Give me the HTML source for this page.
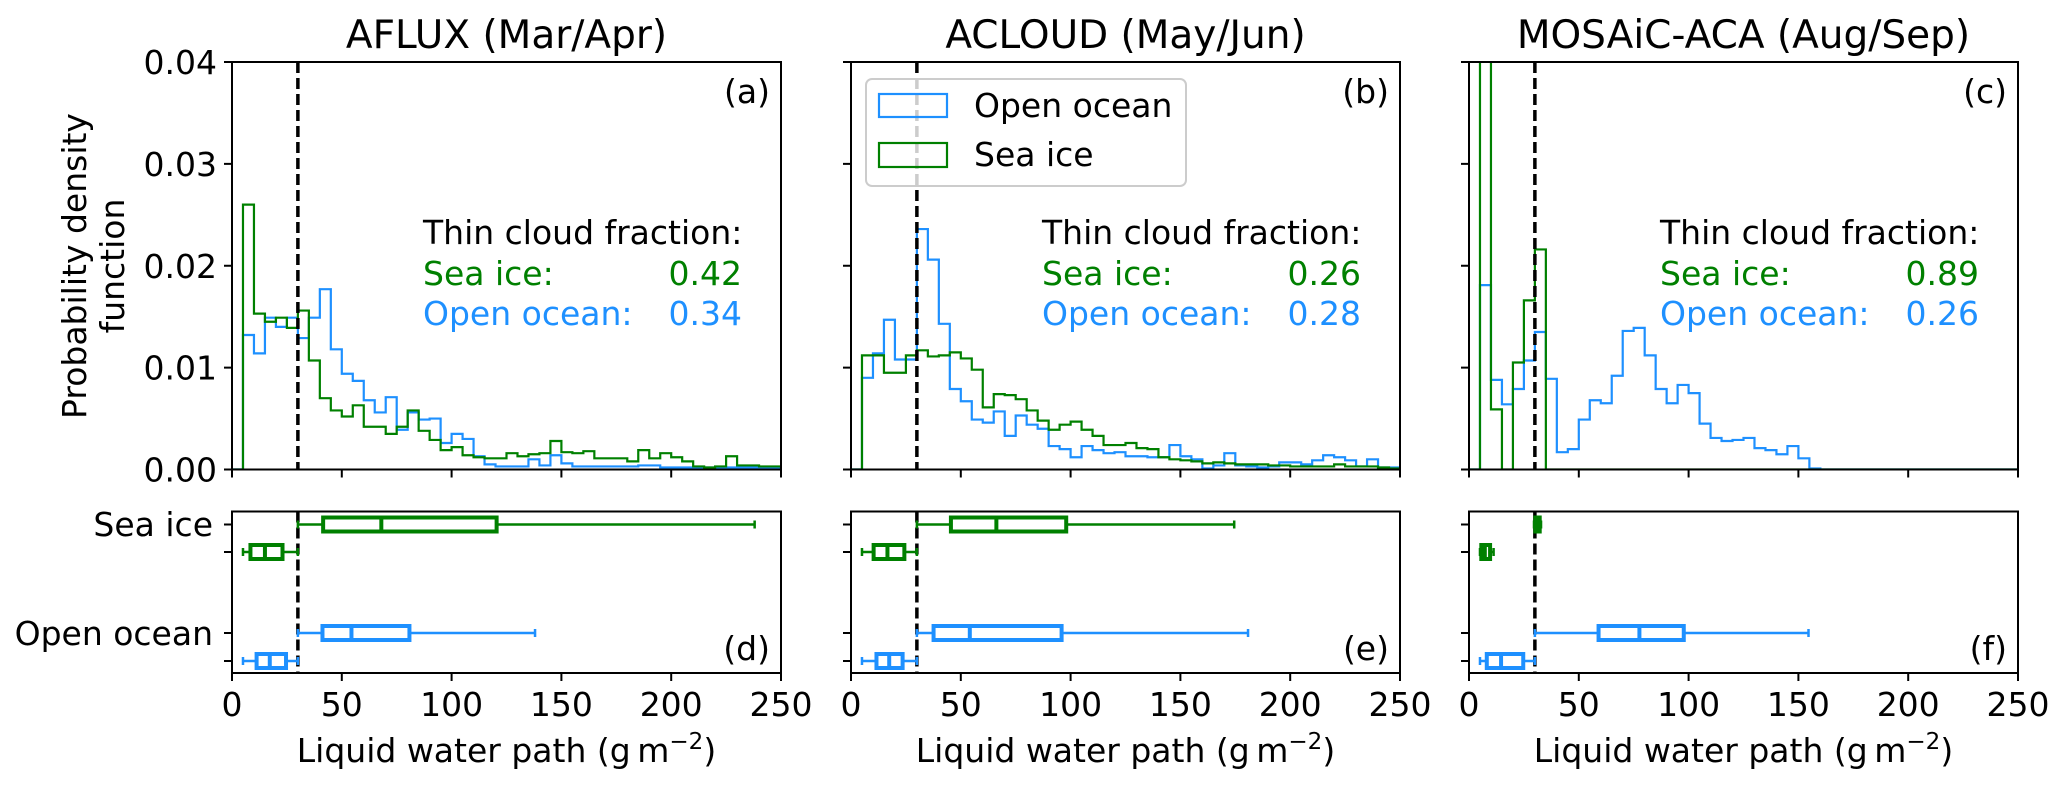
<!DOCTYPE html>
<html><head><meta charset="utf-8">
<style>
html,body{margin:0;padding:0;background:#fff;}
svg{display:block;font-family:"DejaVu Sans","Liberation Sans",sans-serif;}
</style></head>
<body>
<svg id="fig" width="2067" height="788" viewBox="0 0 2067 788" xmlns="http://www.w3.org/2000/svg"></svg>
<script>
// ---- data ----
const binStart = 0, binWidth = 5;
const xTicks = [0, 50, 100, 150, 200, 250];
const yTicks = [0.00, 0.01, 0.02, 0.03, 0.04];
const yTickLabels = ["0.00", "0.01", "0.02", "0.03", "0.04"];
const panelTitles = ["AFLUX (Mar/Apr)", "ACLOUD (May/Jun)", "MOSAiC-ACA (Aug/Sep)"];
const histLetters = ["(a)", "(b)", "(c)"];
const boxLetters = ["(d)", "(e)", "(f)"];
const thinThreshold = 30;
const seaIceFraction = ["0.42", "0.26", "0.89"];
const openOceanFraction = ["0.34", "0.28", "0.26"];

const aSeaIce = [0,0.026,0.0153,0.0145,0.0149,0.0139,0.0156,0.0107,0.0070,0.0058,0.0052,0.0063,0.0042,0.0042,0.0035,0.0042,0.0058,0.0038,0.0029,0.0019,0.0022,0.0014,0.0012,0.0011,0.0011,0.0016,0.0013,0.0015,0.0016,0.0028,0.0017,0.0016,0.0018,0.0011,0.0011,0.0011,0.0008,0.0019,0.0011,0.0016,0.0012,0.0008,0.0003,0.0002,0.0003,0.0013,0.0004,0.0004,0.0003,0.0003];
const aOpen = [0,0.0132,0.0114,0.0149,0.0140,0.0149,0.0129,0.0149,0.0177,0.0118,0.0094,0.0087,0.0068,0.0056,0.0071,0.0039,0.0056,0.0049,0.0050,0.0026,0.0035,0.0030,0.0013,0.0005,0.0003,0.0003,0.0003,0.0010,0.0004,0.0014,0.0006,0.0003,0.0003,0.0003,0.0003,0.0003,0.0003,0.0004,0.0004,0.0002,0.0002,0.0002,0.0002,0.0002,0.0002,0.0002,0.0002,0.0002,0.0002,0.0002];
const bSeaIce = [0,0.0112,0.0112,0.0095,0.0095,0.0112,0.0117,0.0111,0.0112,0.0115,0.0109,0.0098,0.0061,0.0074,0.0073,0.0069,0.0058,0.0048,0.0039,0.0044,0.0047,0.0039,0.0033,0.0024,0.0024,0.0026,0.0021,0.0020,0.0012,0.0010,0.0009,0.0008,0.0006,0.0007,0.0006,0.0005,0.0005,0.0005,0.0004,0.0004,0.0003,0.0003,0.0003,0.0003,0.0005,0.0003,0.0003,0.0003,0.0002,0.0001];
const bOpen = [0,0.009,0.0114,0.0147,0.0108,0.0108,0.0236,0.0206,0.0143,0.0079,0.0067,0.0049,0.0046,0.0057,0.0033,0.0053,0.0044,0.0040,0.0023,0.0020,0.0012,0.0023,0.0019,0.0016,0.0017,0.0013,0.0013,0.0012,0.0012,0.0024,0.0013,0.0010,0.0001,0.0004,0.0016,0.0004,0.0003,0.0002,0.0003,0.0007,0.0007,0.0005,0.0009,0.0014,0.0012,0.0009,0.0003,0.0010,0.0002,0.0002];
const cSeaIce = [0,0.09,0.0059,0,0.0105,0.0166,0.0216,0,0,0,0,0,0,0,0,0,0,0,0,0,0,0,0,0,0,0,0,0,0,0,0,0,0,0,0,0,0,0,0,0,0,0,0,0,0,0,0,0,0,0];
const cOpen = [0,0.0181,0.0088,0.0064,0.0079,0.0107,0.0135,0.0089,0.0017,0.0020,0.0049,0.0068,0.0065,0.0092,0.0136,0.0139,0.0112,0.0079,0.0065,0.0083,0.0075,0.0045,0.0031,0.0028,0.0029,0.0031,0.0021,0.0019,0.0015,0.0023,0.0011,0.0001,0,0,0,0,0,0,0,0,0,0,0,0,0,0,0,0,0,0];

// box stats: [whiskerLow, q1, median, q3, whiskerHigh]
const aSeaIceThick = [30, 41.5, 68, 120.5, 238];
const aSeaIceThin  = [5, 8.4, 15, 23, 30];
const aOpenThick   = [30, 41.2, 54.4, 80.8, 138];
const aOpenThin    = [5, 11.2, 17.2, 24.6, 30];
const bSeaIceThick = [30, 45.5, 66.2, 98, 174.5];
const bSeaIceThin  = [5, 10.3, 16.6, 24.3, 30];
const bOpenThick   = [30, 37.6, 54.1, 95.9, 180.8];
const bOpenThin    = [5, 11.6, 17.4, 23.5, 30];
const cSeaIceThick = [29.6, 30.2, 31.2, 32.2, 32.8];
const cSeaIceThin  = [5, 5.6, 7.2, 9.6, 11.2];
const cOpenThick   = [30, 59, 77.6, 97.8, 154.6];
const cOpenThin    = [5, 8.1, 14.6, 24.7, 30];

const histSeaIce = [aSeaIce, bSeaIce, cSeaIce];
const histOpen = [aOpen, bOpen, cOpen];
const boxSets = [
  [aSeaIceThick, aSeaIceThin, aOpenThick, aOpenThin],
  [bSeaIceThick, bSeaIceThin, bOpenThick, bOpenThin],
  [cSeaIceThick, cSeaIceThin, cOpenThick, cOpenThin]
];

// ---- layout ----
const GREEN = "#008000", BLUE = "#1E90FF";
const panelLeft = [232, 851, 1469], panelW = 549;
const hTop = 62, hBot = 469.5, yMax = 0.04;
const bTop = 511.5, bBot = 673;
const boxRowY = [524.5, 552, 633, 661];
const boxColors = [GREEN, GREEN, BLUE, BLUE];
const NS = "http://www.w3.org/2000/svg";
const svg = document.getElementById("fig");

function el(tag, attrs, parent) {
  const e = document.createElementNS(NS, tag);
  for (const k in attrs) e.setAttribute(k, attrs[k]);
  (parent || svg).appendChild(e);
  return e;
}
function txt(s, attrs, parent) { const t = el("text", attrs, parent); t.textContent = s; return t; }
function xScale(p, v) { return panelLeft[p] + v / 250 * panelW; }
function yScale(v) { return hBot - v / yMax * (hBot - hTop); }

const defs = el("defs", {});
for (let p = 0; p < 3; p++) {
  const cp = el("clipPath", {id: "clip" + p}, defs);
  el("rect", {x: panelLeft[p], y: hTop, width: panelW, height: hBot - hTop}, cp);
}

function stepPath(p, vals) {
  let d = "M" + xScale(p, binStart) + "," + yScale(0);
  for (let i = 0; i < vals.length; i++) {
    const x0 = xScale(p, binStart + i * binWidth), x1 = xScale(p, binStart + (i + 1) * binWidth);
    const y = yScale(vals[i]);
    d += " L" + x0 + "," + y + " L" + x1 + "," + y;
  }
  d += " L" + xScale(p, binStart + vals.length * binWidth) + "," + yScale(0);
  return d;
}

for (let p = 0; p < 3; p++) {
  const L = panelLeft[p], R = L + panelW;
  const ti = txt(panelTitles[p], {x: L + panelW / 2, y: 48, "font-size": 39, "text-anchor": "middle", fill: "#000"});
  
  

  const g = el("g", {"clip-path": "url(#clip" + p + ")"});
  
  
  const ho = el("path", {d: stepPath(p, histOpen[p]), fill: "none", stroke: BLUE, "stroke-width": 2.2}, g);
  
  
  const hs = el("path", {d: stepPath(p, histSeaIce[p]), fill: "none", stroke: GREEN, "stroke-width": 2.2}, g);
  
  

  const tx = xScale(p, thinThreshold);
  const dl = el("line", {x1: tx, x2: tx, y1: hTop, y2: hBot, stroke: "#000", "stroke-width": 3.5, "stroke-dasharray": "11,5"});
  
  
  const dl2 = el("line", {x1: tx, x2: tx, y1: bTop, y2: bBot, stroke: "#000", "stroke-width": 3.5, "stroke-dasharray": "11,5"});
  
  

  const fr = el("rect", {x: L, y: hTop, width: panelW, height: hBot - hTop, fill: "none", stroke: "#000", "stroke-width": 2});
  
  
  for (let i = 0; i < yTicks.length; i++) {
    const y = yScale(yTicks[i]);
    const tk = el("line", {x1: L - 8, x2: L, y1: y, y2: y, stroke: "#000", "stroke-width": 2});
    
    
    if (p === 0) {
      const tl = txt(yTickLabels[i], {x: L - 15, y: y + 12, "font-size": 33, "text-anchor": "end"});
      
      
    }
  }
  for (let i = 0; i < xTicks.length; i++) {
    const x = xScale(p, xTicks[i]);
    const tk = el("line", {x1: x, x2: x, y1: hBot, y2: hBot + 8, stroke: "#000", "stroke-width": 2});
    
    
  }
  const la = txt(histLetters[p], {x: R - 11, y: 103, "font-size": 33, "text-anchor": "end"});
  
  

  const ax = L + 191, axr = L + 510;
  const a1 = txt("Thin cloud fraction:", {x: ax, y: 244, "font-size": 33, fill: "#000"});
  
  
  const a2 = txt("Sea ice:", {x: ax, y: 285, "font-size": 33, fill: GREEN});
  
  
  const a3 = txt(seaIceFraction[p], {x: axr, y: 285, "font-size": 33, fill: GREEN, "text-anchor": "end"});
  
  
  const a4 = txt("Open ocean:", {x: ax, y: 325, "font-size": 33, fill: BLUE});
  
  
  const a5 = txt(openOceanFraction[p], {x: axr, y: 325, "font-size": 33, fill: BLUE, "text-anchor": "end"});
  
  

  for (let b = 0; b < 4; b++) {
    const s = boxSets[p][b], cy = boxRowY[b], col = boxColors[b];
    const bg = el("g", {});
    
    
    const hw = 7, cap = 4;
    el("line", {x1: xScale(p, s[0]), x2: xScale(p, s[1]), y1: cy, y2: cy, stroke: col, "stroke-width": 2.5}, bg);
    el("line", {x1: xScale(p, s[3]), x2: xScale(p, s[4]), y1: cy, y2: cy, stroke: col, "stroke-width": 2.5}, bg);
    el("line", {x1: xScale(p, s[0]), x2: xScale(p, s[0]), y1: cy - cap, y2: cy + cap, stroke: col, "stroke-width": 2.5}, bg);
    el("line", {x1: xScale(p, s[4]), x2: xScale(p, s[4]), y1: cy - cap, y2: cy + cap, stroke: col, "stroke-width": 2.5}, bg);
    el("rect", {x: xScale(p, s[1]), y: cy - hw, width: xScale(p, s[3]) - xScale(p, s[1]), height: 2 * hw, fill: "none", stroke: col, "stroke-width": 4}, bg);
    el("line", {x1: xScale(p, s[2]), x2: xScale(p, s[2]), y1: cy - hw, y2: cy + hw, stroke: col, "stroke-width": 4}, bg);
  }
  const bf = el("rect", {x: L, y: bTop, width: panelW, height: bBot - bTop, fill: "none", stroke: "#000", "stroke-width": 2});
  
  
  for (let b = 0; b < 4; b++) {
    const tk = el("line", {x1: L - 8, x2: L, y1: boxRowY[b], y2: boxRowY[b], stroke: "#000", "stroke-width": 2});
    
    
  }
  for (let i = 0; i < xTicks.length; i++) {
    const x = xScale(p, xTicks[i]);
    const tk = el("line", {x1: x, x2: x, y1: bBot, y2: bBot + 8, stroke: "#000", "stroke-width": 2});
    
    
    const tl = txt(String(xTicks[i]), {x: x, y: 716, "font-size": 33, "text-anchor": "middle"});
    
    
  }
  const bl = txt(boxLetters[p], {x: R - 11, y: 660, "font-size": 33, "text-anchor": "end"});
  
  

  const xl = el("text", {x: L + panelW / 2, y: 762, "font-size": 33, "text-anchor": "middle"});
  
  
  xl.textContent = "Liquid water path (g\u2009m";
  const sup = el("tspan", {"font-size": 23, dy: -13}, xl); sup.textContent = "\u22122";
  const cl = el("tspan", {dy: 13}, xl); cl.textContent = ")";
}

const yt = el("text", {"font-size": 33, "text-anchor": "middle", transform: "translate(86,266) rotate(-90)"});


const t1 = el("tspan", {x: 0, dy: 0}, yt); t1.textContent = "Probability density";
const t2 = el("tspan", {x: 0, dy: 38}, yt); t2.textContent = "function";

const r1 = txt("Sea ice", {x: 213, y: 536, "font-size": 33, "text-anchor": "end"});


const r2 = txt("Open ocean", {x: 213, y: 645, "font-size": 33, "text-anchor": "end"});



const lg = el("g", {});


el("rect", {x: 866, y: 79, width: 320, height: 107, rx: 6, fill: "#fff", "fill-opacity": 0.8, stroke: "#ccc", "stroke-width": 2}, lg);
const le1 = el("g", {}, lg);


el("rect", {x: 879, y: 94, width: 68, height: 23, fill: "none", stroke: BLUE, "stroke-width": 2.2}, le1);
txt("Open ocean", {x: 974, y: 117, "font-size": 33}, le1);
const le2 = el("g", {}, lg);


el("rect", {x: 879, y: 143, width: 68, height: 24, fill: "none", stroke: GREEN, "stroke-width": 2.2}, le2);
txt("Sea ice", {x: 974, y: 166, "font-size": 33}, le2);
</script>
</body></html>
